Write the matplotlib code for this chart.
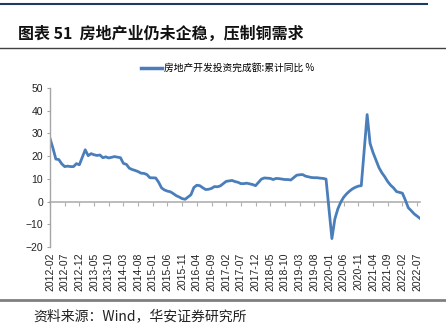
import numpy as np
import matplotlib.pyplot as plt
from matplotlib.lines import Line2D

plt.rcParams['font.family'] = ['Liberation Sans', 'Noto Sans CJK SC', 'DejaVu Sans']

# Real estate investment, cumulative YoY %, Feb..Dec each year (no January print)
yoy_2012 = [27.8, 23.5, 18.7, 18.5, 16.6, 15.4, 15.6, 15.4, 15.4, 16.7, 16.2]
yoy_2013 = [22.8, 20.2, 21.1, 20.6, 20.3, 20.5, 19.3, 19.7, 19.2, 19.5, 19.8]
yoy_2014 = [19.3, 16.8, 16.4, 14.7, 14.1, 13.7, 13.2, 12.5, 12.4, 11.9, 10.5]
yoy_2015 = [10.4, 8.5, 6.0, 5.1, 4.6, 4.3, 3.5, 2.6, 2.0, 1.3, 1.0]
yoy_2016 = [3.0, 6.2, 7.2, 7.0, 6.1, 5.3, 5.4, 5.8, 6.6, 6.5, 6.9]
yoy_2017 = [8.9, 9.1, 9.3, 8.8, 8.5, 7.9, 7.9, 8.1, 7.8, 7.5, 7.0]
yoy_2018 = [9.9, 10.4, 10.3, 10.2, 9.7, 10.2, 10.1, 9.9, 9.7, 9.7, 9.5]
yoy_2019 = [11.6, 11.8, 11.9, 11.2, 10.9, 10.6, 10.5, 10.5, 10.3, 10.2, 9.9]
yoy_2020 = [-16.3, -7.7, -3.3, -0.3, 1.9, 3.4, 4.6, 5.6, 6.3, 6.8, 7.0]
yoy_2021 = [38.3, 25.6, 21.6, 18.3, 15.0, 12.7, 10.9, 8.8, 7.2, 6.0, 4.4]
yoy_2022 = [3.7, 0.7, -2.7, -4.0, -5.4, -6.4, -7.4]

series = [yoy_2012, yoy_2013, yoy_2014, yoy_2015, yoy_2016, yoy_2017,
          yoy_2018, yoy_2019, yoy_2020, yoy_2021, yoy_2022]

# month index from 2012-02, January slots left empty
x, y = [], []
for k, vals in enumerate(series):
    for m, v in enumerate(vals):
        x.append(k * 12 + m)
        y.append(v)

n_months = 126
all_labels = [f'{2012 + (i + 1) // 12}-{(i + 1) % 12 + 1:02d}' for i in range(n_months + 1)]
tick_pos = list(range(0, n_months, 5))
tick_labels = [all_labels[i] for i in tick_pos]

fig = plt.figure(figsize=(4.46, 3.35), dpi=100)
ax = fig.add_axes([50 / 446, 1 - 247 / 335, 370 / 446, 159 / 335])

line_c = '#4a7ebb'
ax.plot(x, y, color=line_c, linewidth=2.0, solid_joinstyle='round')

ax.set_xlim(0, n_months)
ax.set_ylim(-20, 50)
ax.set_yticks(range(-20, 51, 10))

for s in ['top', 'right', 'bottom']:
    ax.spines[s].set_visible(False)
ax.spines['left'].set_color('#a6a6a6')
ax.spines['left'].set_linewidth(1.0)
ax.tick_params(axis='y', length=2, width=0.8, color='#a6a6a6', labelsize=7.5,
               labelcolor='#222222', pad=3)

ax.set_xticks(tick_pos)
ax.set_xticklabels(tick_labels, rotation=90)
ax.tick_params(axis='x', length=0, labelsize=7.5, labelcolor='#222222', pad=4)

# zero line carrying the month ticks
zero_ax = ax.secondary_xaxis(20 / 70)
zero_ax.spines['bottom'].set_color('#b0b0b0')
zero_ax.spines['bottom'].set_linewidth(1.2)
zero_ax.set_xticks(tick_pos)
zero_ax.set_xticklabels([])
zero_ax.tick_params(axis='x', length=3, width=0.8, color='#b0b0b0', direction='out')

ax.legend([Line2D([0], [0], color=line_c, linewidth=2.5)],
          ['房地产开发投资完成额:累计同比 %'],
          loc='center', bbox_to_anchor=(0.51, 1 - 68 / 335),
          bbox_transform=fig.transFigure, frameon=False,
          prop={'family': ['Noto Sans CJK SC'], 'size': 7},
          handlelength=2.2, handletextpad=0.2)

# decorations of the report page
fig.add_artist(Line2D([0, 427 / 446], [1 - 4 / 335] * 2, color='#1f3864', linewidth=1.5))
fig.add_artist(Line2D([0, 1], [1 - 48 / 335] * 2, color='#404040', linewidth=1.0))
fig.add_artist(Line2D([0, 1], [1 - 300 / 335] * 2, color='#808080', linewidth=2.0))

fig.text(18 / 446, 1 - 34 / 335, '图表 51  房地产业仍未企稳，压制铜需求',
         family=['Noto Sans CJK SC'], fontsize=11.5, fontweight='bold',
         va='center', ha='left', color='#111111')
fig.text(33 / 446, 1 - 316 / 335, '资料来源：Wind，华安证券研究所',
         family=['Noto Sans CJK SC'], fontsize=10,
         va='center', ha='left', color='#222222')

plt.savefig('out.png', dpi=100)
